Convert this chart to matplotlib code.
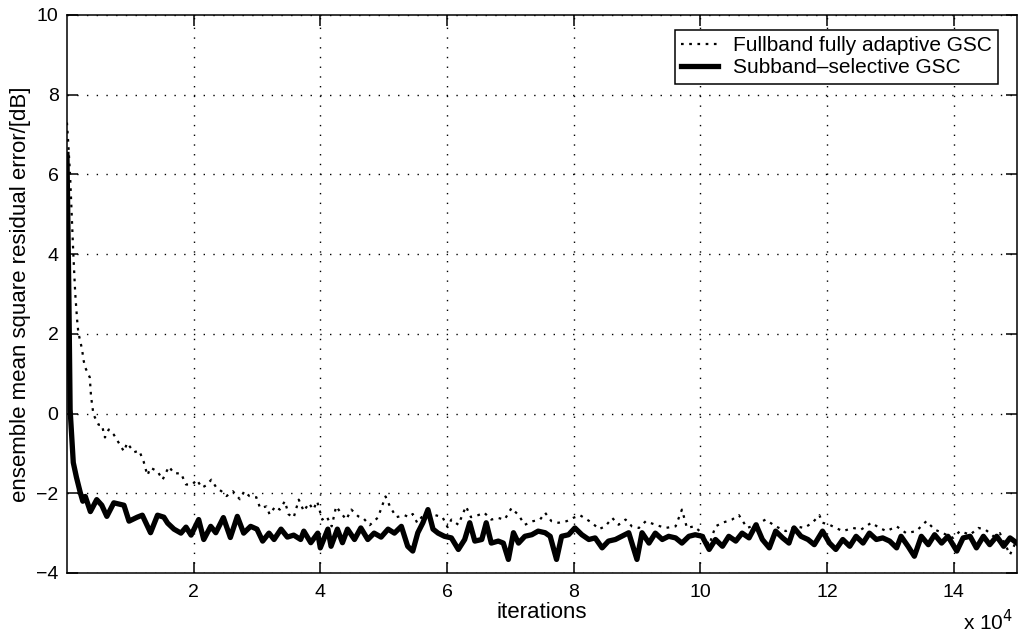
import numpy as np
import matplotlib
matplotlib.use('Agg')
import matplotlib.pyplot as plt

plt.rcParams['font.family'] = ['Liberation Sans', 'DejaVu Sans']

# iterations in units of 10^4
sub_x = [0.0, 0.03, 0.05, 0.1, 0.15, 0.21, 0.25, 0.29, 0.37, 0.47, 0.55, 0.63, 0.74, 0.9, 0.98,
         1.11, 1.19, 1.32, 1.43, 1.53, 1.59, 1.69, 1.8, 1.88, 1.96, 2.08, 2.16, 2.27, 2.35, 2.47,
         2.58, 2.69, 2.79, 2.9, 3.0, 3.09, 3.19, 3.27, 3.38, 3.48, 3.58, 3.69, 3.74, 3.85, 3.96,
         4.0, 4.12, 4.17, 4.27, 4.35, 4.43, 4.54, 4.64, 4.75, 4.85, 4.96, 5.07, 5.17, 5.28, 5.38,
         5.46, 5.54, 5.62, 5.7, 5.78, 5.86, 5.96, 6.07, 6.18, 6.28, 6.36, 6.44, 6.55, 6.62, 6.7,
         6.81, 6.89, 6.97, 7.05, 7.13, 7.23, 7.34, 7.44, 7.55, 7.63, 7.73, 7.81, 7.92, 8.02, 8.13,
         8.24, 8.34, 8.45, 8.55, 8.66, 8.76, 8.87, 9.0, 9.08, 9.19, 9.29, 9.4, 9.5, 9.61, 9.71,
         9.82, 9.92, 10.03, 10.14, 10.24, 10.35, 10.45, 10.56, 10.66, 10.77, 10.88, 10.98, 11.09,
         11.19, 11.3, 11.4, 11.48, 11.59, 11.7, 11.8, 11.93, 12.04, 12.14, 12.25, 12.36, 12.46,
         12.57, 12.67, 12.78, 12.88, 12.99, 13.1, 13.17, 13.28, 13.38, 13.49, 13.6, 13.7, 13.81,
         13.91, 14.05, 14.15, 14.26, 14.36, 14.47, 14.57, 14.68, 14.79, 14.89, 15.0]
sub_y = [6.5, 3.0, 0.1, -1.23, -1.6, -1.98, -2.2, -2.08, -2.46, -2.16, -2.3, -2.58, -2.24, -2.3, -2.7,
         -2.6, -2.55, -2.99, -2.55, -2.6, -2.75, -2.9, -3.0, -2.85, -3.05, -2.66, -3.16, -2.83, -2.99, -2.61,
         -3.11, -2.58, -3.0, -2.83, -2.9, -3.2, -3.0, -3.16, -2.9, -3.1, -3.05, -3.16, -2.95, -3.24, -3.0,
         -3.37, -2.9, -3.33, -2.9, -3.24, -2.9, -3.16, -2.87, -3.16, -3.0, -3.1, -2.9, -3.0, -2.83, -3.33,
         -3.45, -2.99, -2.74, -2.41, -2.9, -3.0, -3.08, -3.12, -3.41, -3.16, -2.74, -3.2, -3.16, -2.74, -3.25,
         -3.2, -3.25, -3.66, -2.99, -3.25, -3.08, -3.04, -2.95, -2.99, -3.08, -3.66, -3.08, -3.04, -2.87, -3.04,
         -3.16, -3.12, -3.37, -3.2, -3.16, -3.08, -2.99, -3.66, -2.99, -3.25, -3.0, -3.16, -3.08, -3.12, -3.25,
         -3.08, -3.04, -3.08, -3.41, -3.16, -3.33, -3.08, -3.2, -3.0, -3.12, -2.79, -3.16, -3.37,
         -2.95, -3.12, -3.25, -2.87, -3.08, -3.16, -3.29, -2.95, -3.25, -3.41, -3.16, -3.33, -3.08,
         -3.25, -3.0, -3.16, -3.12, -3.2, -3.37, -3.08, -3.33, -3.58, -3.08, -3.29, -3.04, -3.25,
         -3.08, -3.45, -3.12, -3.08, -3.37, -3.08, -3.29, -3.08, -3.33, -3.12, -3.25]

full_x = [0.0, 0.02, 0.05, 0.1, 0.13, 0.16, 0.18, 0.24, 0.26, 0.29, 0.36, 0.38, 0.4, 0.42, 0.5,
          0.55, 0.6, 0.66, 0.74, 0.9, 0.95, 1.06, 1.14, 1.21, 1.27, 1.32, 1.43, 1.51, 1.61, 1.69,
          1.8, 1.88, 1.98, 2.05, 2.13, 2.2, 2.28, 2.36, 2.44, 2.52, 2.62, 2.73, 2.8, 2.88, 2.99,
          3.05, 3.15, 3.2, 3.29, 3.36, 3.44, 3.5, 3.58, 3.66, 3.74, 3.82, 3.89, 3.95, 4.03, 4.1,
          4.18, 4.25, 4.33, 4.41, 4.49, 4.6, 4.67, 4.78, 4.91, 5.03, 5.1, 5.2, 5.33, 5.4, 5.46,
          5.53, 5.6, 5.75, 5.93, 6.01, 6.07, 6.18, 6.3, 6.38, 6.49, 6.59, 6.7, 6.81, 6.91, 7.02,
          7.13, 7.23, 7.36, 7.47, 7.55, 7.65, 7.76, 7.89, 7.99, 8.1, 8.21, 8.29, 8.4, 8.5, 8.61,
          8.71, 8.82, 8.92, 9.03, 9.14, 9.29, 9.45, 9.61, 9.71, 9.79, 9.9, 10.03, 10.14, 10.24,
          10.35, 10.5, 10.61, 10.74, 10.88, 11.03, 11.19, 11.35, 11.51, 11.64, 11.77, 11.88, 11.93,
          12.04, 12.14, 12.25, 12.41, 12.54, 12.7, 12.83, 12.94, 13.1, 13.25, 13.41, 13.57, 13.7,
          13.83, 13.99, 14.1, 14.26, 14.39, 14.5, 14.63, 14.73, 14.89, 15.0]
full_y = [7.3, 6.8, 5.96, 4.03, 3.03, 2.36, 2.03, 1.6, 1.35, 1.15, 0.91, 0.44, 0.19, -0.03, -0.28,
          -0.28, -0.6, -0.4, -0.53, -0.95, -0.74, -0.97, -0.93, -1.2, -1.55, -1.36, -1.45, -1.66, -1.33, -1.5,
          -1.5, -1.78, -1.78, -1.66, -1.86, -1.8, -1.66, -1.86, -1.95, -2.07, -1.95, -2.15, -1.95, -2.07, -2.1,
          -2.37, -2.33, -2.53, -2.33, -2.41, -2.2, -2.53, -2.61, -2.16, -2.45, -2.25, -2.41, -2.2, -2.66, -2.58,
          -2.83, -2.33, -2.5, -2.66, -2.41, -2.58, -2.61, -2.8, -2.61, -2.08, -2.33, -2.6, -2.55, -2.6, -2.52,
          -2.74, -2.6, -2.52, -2.6, -2.85, -2.66, -2.79, -2.33, -2.6, -2.55, -2.49, -2.66, -2.62, -2.66, -2.37,
          -2.55, -2.79, -2.7, -2.66, -2.49, -2.7, -2.74, -2.7, -2.62, -2.55, -2.66, -2.74, -2.9, -2.83, -2.62,
          -2.79, -2.66, -2.83, -2.87, -2.7, -2.79, -2.87, -2.83, -2.41, -2.87, -2.83, -3.0, -3.3, -2.83,
          -2.74, -2.66, -2.55, -2.87, -2.79, -2.66, -2.83, -2.95, -2.83, -2.87, -2.74, -2.55, -2.74,
          -2.79, -2.87, -2.95, -2.87, -2.91, -2.74, -2.87, -2.95, -2.83, -3.0, -2.95, -2.7, -2.91,
          -3.0, -3.12, -2.95, -3.04, -2.87, -2.91, -3.08, -3.0, -3.54, -3.16]

fig = plt.figure(figsize=(10.19, 6.37), dpi=100)
ax = fig.add_axes([0.0657, 0.1005, 0.9323, 0.876])

ax.plot(full_x, full_y, color='black', linestyle=(0, (1.2, 2.5)), linewidth=1.6,
        label='Fullband fully adaptive GSC')
ax.plot(sub_x, sub_y, color='black', linestyle='-', linewidth=3.8, label='Subband\u2013selective GSC')

ax.set_xlim(0, 15)
ax.set_ylim(-4, 10)
ax.set_xticks([2, 4, 6, 8, 10, 12, 14])
ax.set_yticks([-4, -2, 0, 2, 4, 6, 8, 10])
ax.set_yticklabels(['\u22124', '\u22122', '0', '2', '4', '6', '8', '10'])
ax.grid(True, color='black', linestyle=(0, (1, 6)), linewidth=1.0)
ax.tick_params(direction='in', top=True, right=True, length=8, width=1.1, labelsize=14)
ax.tick_params(axis='x', pad=8)
ax.tick_params(axis='y', pad=6)
for s in ax.spines.values():
    s.set_linewidth(1.1)

ax.set_xlabel('iterations', fontsize=16, labelpad=1)
ax.set_ylabel('ensemble mean square residual error/[dB]', fontsize=16, labelpad=4)
fig.text(0.970, 0.005, r'x 10$^{4}$', fontsize=15, ha='center', va='bottom')

leg = ax.legend(loc='upper right', bbox_to_anchor=(0.98, 0.973), fontsize=15,
                frameon=True, fancybox=False, edgecolor='black', framealpha=1,
                borderaxespad=0, handlelength=1.8, borderpad=0.3, labelspacing=0.15,
                handletextpad=0.7)
leg.get_frame().set_linewidth(1.1)

fig.savefig('out.png', dpi=100)
